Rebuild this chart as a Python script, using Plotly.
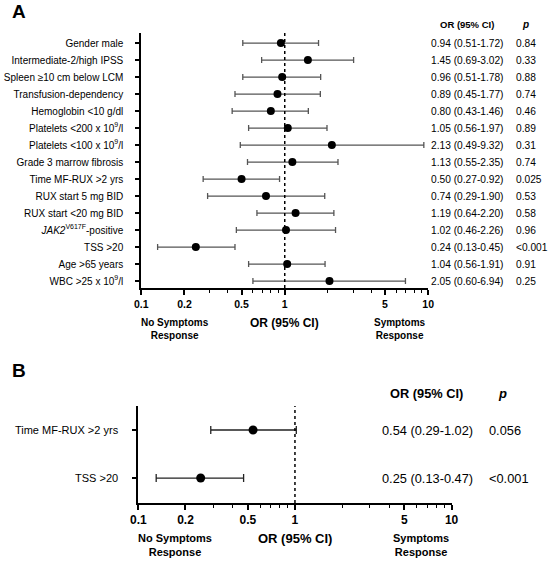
import plotly.graph_objects as go

# ---------- Data: Panel A ----------
labels_a = [
    "Gender male", "Intermediate-2/high IPSS", "Spleen ≥10 cm below LCM",
    "Transfusion-dependency", "Hemoglobin &lt;10 g/dl",
    "Platelets &lt;200 x 10<sup>9</sup>/l", "Platelets &lt;100 x 10<sup>9</sup>/l",
    "Grade 3 marrow fibrosis", "Time MF-RUX >2 yrs", "RUX start 5 mg BID",
    "RUX start &lt;20 mg BID", "<i>JAK2</i><sup>V617F</sup>-positive",
    "TSS >20", "Age >65 years", "WBC >25 x 10<sup>9</sup>/l",
]
or_a = [0.94, 1.45, 0.96, 0.89, 0.80, 1.05, 2.13, 1.13, 0.50, 0.74, 1.19, 1.02, 0.24, 1.04, 2.05]
lo_a = [0.51, 0.69, 0.51, 0.45, 0.43, 0.56, 0.49, 0.55, 0.27, 0.29, 0.64, 0.46, 0.13, 0.56, 0.60]
hi_a = [1.72, 3.02, 1.78, 1.77, 1.46, 1.97, 9.32, 2.35, 0.92, 1.90, 2.20, 2.26, 0.45, 1.91, 6.94]
ci_text_a = ["0.94 (0.51-1.72)", "1.45 (0.69-3.02)", "0.96 (0.51-1.78)", "0.89 (0.45-1.77)",
             "0.80 (0.43-1.46)", "1.05 (0.56-1.97)", "2.13 (0.49-9.32)", "1.13 (0.55-2.35)",
             "0.50 (0.27-0.92)", "0.74 (0.29-1.90)", "1.19 (0.64-2.20)", "1.02 (0.46-2.26)",
             "0.24 (0.13-0.45)", "1.04 (0.56-1.91)", "2.05 (0.60-6.94)"]
p_a = ["0.84", "0.33", "0.88", "0.74", "0.46", "0.89", "0.31", "0.74", "0.025",
       "0.53", "0.58", "0.96", "&lt;0.001", "0.91", "0.25"]

# ---------- Data: Panel B ----------
labels_b = ["Time MF-RUX >2 yrs", "TSS >20"]
or_b = [0.54, 0.25]
lo_b = [0.29, 0.13]
hi_b = [1.02, 0.47]
ci_text_b = ["0.54 (0.29-1.02)", "0.25 (0.13-0.47)"]
p_b = ["0.056", "&lt;0.001"]

# ---------- Axis ticks ----------
major_ticks = [0.1, 0.2, 0.5, 1, 5, 10]
major_ticktext = ["0.1", "0.2", "0.5", "1", "5", "10"]
minor_ticks = [0.3, 0.4, 0.6, 0.7, 0.8, 0.9, 2, 3, 4, 6, 7, 8, 9]

FONT = "Liberation Sans, Arial, sans-serif"
W, H = 550, 563

def px_x(p):
    return p / W

def px_y(p):
    return (H - p) / H

rows_a = list(range(1, len(labels_a) + 1))
rows_b = list(range(1, len(labels_b) + 1))

fig = go.Figure()

fig.add_trace(go.Scatter(
    x=or_a, y=rows_a, mode="markers", xaxis="x", yaxis="y",
    marker=dict(color="black", size=8),
    error_x=dict(type="data", symmetric=False,
                 array=[h - o for h, o in zip(hi_a, or_a)],
                 arrayminus=[o - l for o, l in zip(or_a, lo_a)],
                 color="#555555", thickness=1.3, width=3),
    showlegend=False, hoverinfo="skip",
))
fig.add_trace(go.Scatter(
    x=or_b, y=rows_b, mode="markers", xaxis="x2", yaxis="y2",
    marker=dict(color="black", size=9),
    error_x=dict(type="data", symmetric=False,
                 array=[h - o for h, o in zip(hi_b, or_b)],
                 arrayminus=[o - l for o, l in zip(or_b, lo_b)],
                 color="#222222", thickness=1.3, width=4),
    showlegend=False, hoverinfo="skip",
))

def xaxis_cfg(domain, anchor, fs):
    return dict(
        type="log", range=[-1, 1], domain=domain, anchor=anchor,
        showline=True, linecolor="black", linewidth=2,
        showgrid=False, zeroline=False,
        ticks="outside", ticklen=5, tickwidth=1.5, tickcolor="black",
        tickmode="array", tickvals=major_ticks, ticktext=major_ticktext,
        tickfont=dict(family=FONT, size=fs, color="black", weight="bold"),
        minor=dict(tickvals=minor_ticks, ticks="outside", ticklen=3,
                   tickwidth=1.2, tickcolor="black", showgrid=False),
    )

def yaxis_cfg(domain, anchor, rng, vals, texts, fs, standoff):
    return dict(
        domain=domain, anchor=anchor, range=rng,
        showline=True, linecolor="black", linewidth=2,
        showgrid=False, zeroline=False,
        ticks="outside", ticklen=4, tickwidth=1.5, tickcolor="black",
        tickmode="array", tickvals=vals, ticktext=texts,
        tickfont=dict(family=FONT, size=fs, color="black"),
        ticklabelstandoff=standoff,
    )

fig.update_layout(
    width=W, height=H, margin=dict(l=0, r=0, t=0, b=0),
    paper_bgcolor="white", plot_bgcolor="white",
    xaxis=xaxis_cfg([px_x(137), px_x(432)], "y", 10.5),
    yaxis=yaxis_cfg([px_y(288), px_y(33)], "x", [15.41, 0.41], rows_a, labels_a, 10, 10),
    xaxis2=xaxis_cfg([px_x(134), px_x(456)], "y2", 12),
    yaxis2=yaxis_cfg([px_y(503), px_y(406)], "x2", [2.52, 0.5], rows_b, labels_b, 11, 12),
)

# Dotted reference lines at OR = 1
for xr, yr in (("x", "y domain"), ("x2", "y2 domain")):
    fig.add_shape(type="line", xref=xr, yref=yr, x0=1, x1=1, y0=0, y1=1,
                  line=dict(color="black", width=1.5, dash="dot"))

ann = []
def add_text(text, x, y, yref="paper", size=10, bold=False, xanchor="center", italic=False):
    t = text
    if italic:
        t = "<i>" + t + "</i>"
    ann.append(dict(text=t, x=x, y=y, xref="paper", yref=yref, showarrow=False,
                    xanchor=xanchor, yanchor="middle", align="center",
                    font=dict(family=FONT, size=size, color="black",
                              weight="bold" if bold else "normal")))

# Panel labels
add_text("A", px_x(2), px_y(11), size=19, bold=True, xanchor="left")
add_text("B", px_x(2), px_y(371), size=19, bold=True, xanchor="left")

# Panel A table
add_text("OR (95% CI)", px_x(472), px_y(24), size=9.5, bold=True)
add_text("p", px_x(532), px_y(24), size=10, bold=True, italic=True)
for r, ci, p in zip(rows_a, ci_text_a, p_a):
    add_text(ci, px_x(433), r, yref="y", size=10.2, xanchor="left")
    add_text(p, px_x(520), r, yref="y", size=10.2, xanchor="left")

# Panel A footer
add_text("No Symptoms<br>Response", px_x(172), px_y(329), size=10, bold=True)
add_text("OR (95% CI)", px_x(284), px_y(323), size=12, bold=True)
add_text("Symptoms<br>Response", px_x(403), px_y(329), size=10, bold=True)

# Panel B table
add_text("OR (95% CI)", px_x(430), px_y(393), size=12.8, bold=True)
add_text("p", px_x(508), px_y(393), size=13, bold=True, italic=True)
for r, ci, p in zip(rows_b, ci_text_b, p_b):
    add_text(ci, px_x(382), r, yref="y2", size=12.8, xanchor="left")
    add_text(p, px_x(492), r, yref="y2", size=12.8, xanchor="left")

# Panel B footer
add_text("No Symptoms<br>Response", px_x(172), px_y(545), size=11, bold=True)
add_text("OR (95% CI)", px_x(295), px_y(538), size=13, bold=True)
add_text("Symptoms<br>Response", px_x(425), px_y(545), size=11, bold=True)

fig.update_layout(annotations=ann)

fig.write_html("out.html", config={"displayModeBar": False},
               post_script="document.body.style.margin='0';document.body.style.overflow='hidden';")
